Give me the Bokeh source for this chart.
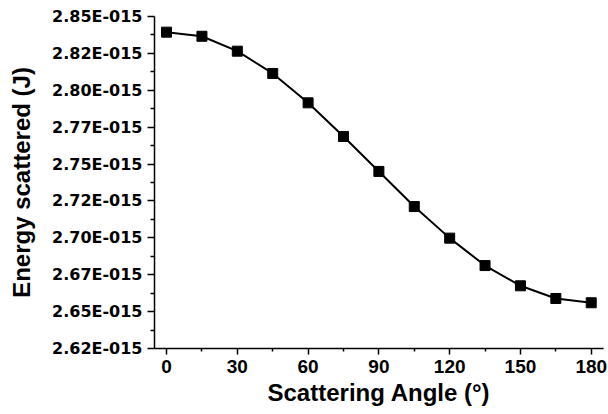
from bokeh.plotting import figure
from bokeh.models import FixedTicker, CustomJSTickFormatter, Range1d
from bokeh.embed import file_html
from bokeh.resources import INLINE

# Data
angle_deg = [0, 15, 30, 45, 60, 75, 90, 105, 120, 135, 150, 165, 180]
energy_J = [2.8394e-15, 2.8366e-15, 2.8265e-15, 2.8114e-15, 2.7915e-15, 2.7687e-15,
            2.7450e-15, 2.7212e-15, 2.6998e-15, 2.6812e-15, 2.6675e-15, 2.6589e-15,
            2.6560e-15]

x_ticks = [0, 30, 60, 90, 120, 150, 180]
x_minor = [15, 45, 75, 105, 135, 165]
y_ticks = [2.625e-15, 2.650e-15, 2.675e-15, 2.700e-15, 2.725e-15, 2.750e-15,
           2.775e-15, 2.800e-15, 2.825e-15, 2.850e-15]
y_minor = [2.6375e-15, 2.6625e-15, 2.6875e-15, 2.7125e-15, 2.7375e-15,
           2.7625e-15, 2.7875e-15, 2.8125e-15, 2.8375e-15]
y_tick_labels = ["2.62E-015", "2.65E-015", "2.67E-015", "2.70E-015", "2.72E-015",
                 "2.75E-015", "2.77E-015", "2.80E-015", "2.82E-015", "2.85E-015"]

p = figure(width=608, height=414, output_backend="svg", toolbar_location=None,
           x_range=Range1d(-5.1, 185.2), y_range=Range1d(2.625e-15, 2.85e-15),
           min_border_left=154, min_border_right=5, min_border_top=16, min_border_bottom=66)

p.outline_line_color = None
p.grid.visible = False
p.background_fill_color = "white"
p.border_fill_color = "white"

p.line(angle_deg, energy_J, line_color="black", line_width=2)
p.scatter(angle_deg, energy_J, marker="square", size=10, fill_color="black", line_color="black")

# X axis
xa = p.xaxis[0]
xa.ticker = FixedTicker(ticks=x_ticks, minor_ticks=x_minor)
xa.axis_label = "Scattering Angle (°)"
xa.axis_label_text_font = "Liberation Sans"
xa.axis_label_text_font_style = "bold"
xa.axis_label_text_font_size = "24px"
xa.axis_label_text_color = "black"
xa.axis_label_standoff = 3
xa.major_label_text_font = "Liberation Sans"
xa.major_label_text_font_style = "bold"
xa.major_label_text_font_size = "19px"
xa.major_label_text_color = "black"
xa.major_label_standoff = 5
xa.major_tick_out = 6
xa.major_tick_in = 0
xa.minor_tick_out = 3
xa.minor_tick_in = 0
xa.axis_line_width = 1.5
xa.axis_line_color = "black"
xa.major_tick_line_color = "black"
xa.minor_tick_line_color = "black"
xa.major_tick_line_width = 1.5
xa.minor_tick_line_width = 1.5

# Y axis
ya = p.yaxis[0]
ya.ticker = FixedTicker(ticks=y_ticks, minor_ticks=y_minor)
ya.formatter = CustomJSTickFormatter(args=dict(vals=y_ticks, labels=y_tick_labels), code="""
let best = 0;
for (let i = 0; i < vals.length; i++) {
  if (Math.abs(vals[i] - tick) < Math.abs(vals[best] - tick)) best = i;
}
return labels[best];
""")
ya.axis_label = "Energy scattered (J)"
ya.axis_label_text_font = "Liberation Sans"
ya.axis_label_text_font_style = "bold"
ya.axis_label_text_font_size = "24px"
ya.axis_label_text_color = "black"
ya.axis_label_standoff = 14
ya.major_label_text_font = "DejaVu Sans"
ya.major_label_text_font_style = "bold"
ya.major_label_text_font_size = "16px"
ya.major_label_text_color = "black"
ya.major_label_standoff = 5
ya.major_tick_out = 7
ya.major_tick_in = 0
ya.minor_tick_out = 4
ya.minor_tick_in = 0
ya.axis_line_width = 1.5
ya.axis_line_color = "black"
ya.major_tick_line_color = "black"
ya.minor_tick_line_color = "black"
ya.major_tick_line_width = 1.5
ya.minor_tick_line_width = 1.5

open("out.html", "w").write(file_html(p, INLINE))
